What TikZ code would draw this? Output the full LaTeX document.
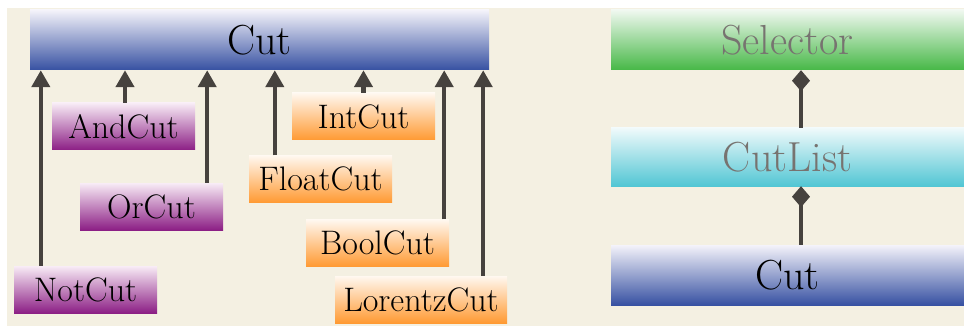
\documentclass[tikz,border=0pt]{standalone}
\usetikzlibrary{arrows.meta}
\definecolor{canvas}{HTML}{F4F0E2}
\definecolor{linegray}{HTML}{46423E}
\definecolor{textgray}{HTML}{777370}
\definecolor{blueA}{HTML}{F4F3FA}
\definecolor{blueB}{HTML}{3751A2}
\definecolor{purpleA}{HTML}{F8ECF6}
\definecolor{purpleB}{HTML}{8C1F85}
\definecolor{orangeA}{HTML}{FFF8F0}
\definecolor{orangeB}{HTML}{FF9A33}
\definecolor{greenA}{HTML}{F0F8F0}
\definecolor{greenB}{HTML}{47B847}
\definecolor{cyanA}{HTML}{F0FAFB}
\definecolor{cyanB}{HTML}{52C6D4}
\begin{document}
\begin{tikzpicture}[x=1pt, y=-1pt,
    bar/.style={inner sep=0pt, minimum height=60pt,
        font=\fontsize{42}{44}\selectfont},
    box/.style={inner sep=0pt, minimum width=143pt, minimum height=47pt,
        font=\fontsize{34}{36}\selectfont},
    cutbar/.style={bar, top color=blueA, bottom color=blueB},
    logicbox/.style={box, top color=purpleA, bottom color=purpleB},
    valuebox/.style={box, top color=orangeA, bottom color=orangeB},
    inherit/.style={line width=4.5pt, draw=linegray,
        -{Triangle[width=18pt,length=17pt]}},
    owns/.style={line width=4pt, draw=linegray,
        -{Diamond[width=18pt,length=21pt]}}]
    \useasboundingbox (0,0) rectangle (964,326);
    \fill[canvas] (7,8) rectangle (964,326);

    \node[cutbar, minimum width=459pt] (cut) at (259.5,40) {Cut};
    \node[logicbox] (andcut) at (123.5,126.5) {AndCut};
    \node[logicbox] (orcut) at (151.5,206.5) {OrCut};
    \node[logicbox] (notcut) at (85.5,289.5) {NotCut};
    \node[valuebox] (intcut) at (363.5,116.5) {IntCut};
    \node[valuebox] (floatcut) at (320.5,179) {FloatCut};
    \node[valuebox] (boolcut) at (377.5,243) {BoolCut};
    \node[valuebox, minimum width=172pt] (lorentzcut) at (421,299.5) {LorentzCut};

    \draw[inherit] ([xshift=27pt]notcut.north west) -- ([xshift=27pt]notcut.north west |- cut.south);
    \draw[inherit] ([xshift=1.5pt]andcut.north) -- ([xshift=1.5pt]andcut.north |- cut.south);
    \draw[inherit] ([xshift=-16pt]orcut.north east) -- ([xshift=-16pt]orcut.north east |- cut.south);
    \draw[inherit] ([xshift=26pt]floatcut.north west) -- ([xshift=26pt]floatcut.north west |- cut.south);
    \draw[inherit] (intcut.north) -- (intcut.north |- cut.south);
    \draw[inherit] ([xshift=-5pt]boolcut.north east) -- ([xshift=-5pt]boolcut.north east |- cut.south);
    \draw[inherit] ([xshift=-24pt]lorentzcut.north east) -- ([xshift=-24pt]lorentzcut.north east |- cut.south);

    \begin{scope}[every node/.append style={minimum width=353pt}]
    \node[bar, top color=greenA, bottom color=greenB, text=textgray] (selector) at (787.5,40) {Selector};
    \node[bar, minimum height=58pt, top color=cyanA, bottom color=cyanB, text=textgray] (cutlist) at (787.5,157) {CutList};
    \node[cutbar] (rcut) at (787.5,275) {Cut};
    \end{scope}
    \draw[owns] ([xshift=13.5pt]cutlist.north) -- ([xshift=13.5pt]selector.south);
    \draw[owns] ([xshift=13.5pt]rcut.north) -- ([xshift=13.5pt]cutlist.south);
\end{tikzpicture}
\end{document}
